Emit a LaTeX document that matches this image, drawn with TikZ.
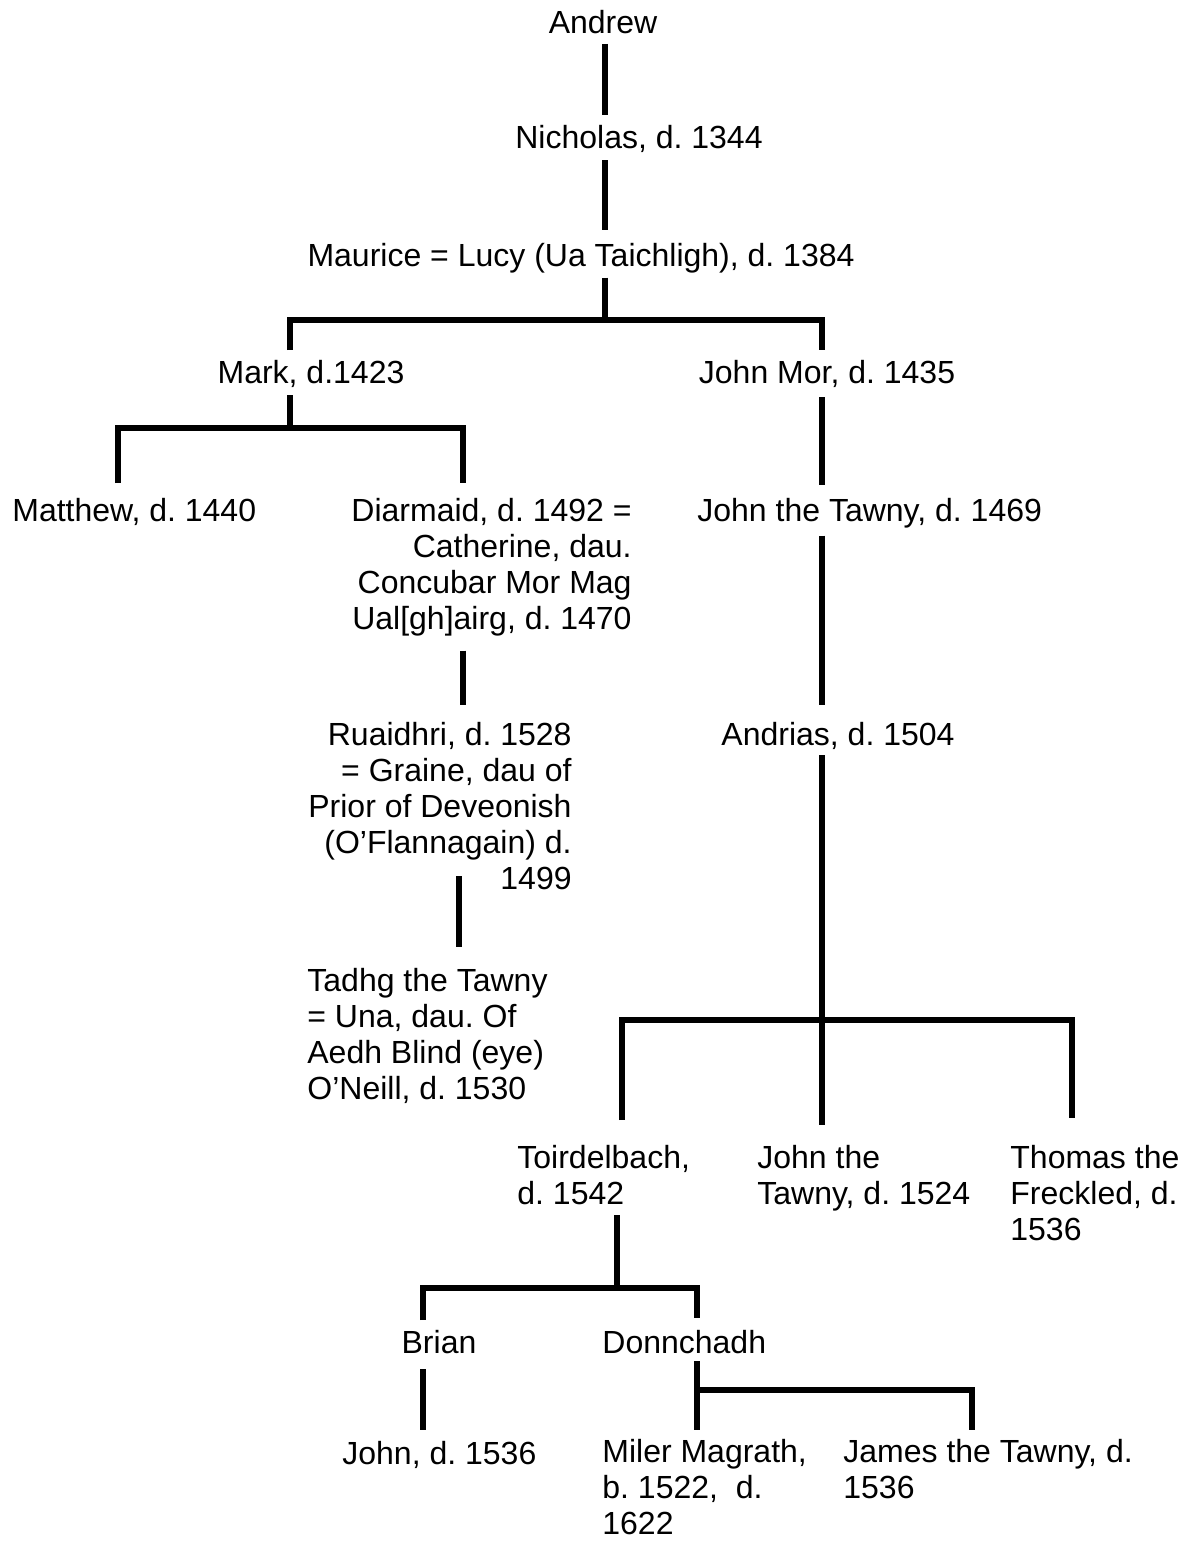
\documentclass[tikz,border=0pt]{standalone}
\usepackage{fontspec}
\setmainfont{Liberation Sans}
\usetikzlibrary{positioning}
\frenchspacing

\tikzset{
  person/.style={inner sep=0pt, font=\fontsize{16}{18}\selectfont},
  kin/.style={line width=3pt}
}

\begin{document}
\begin{tikzpicture}[x=0.5pt, y=-0.5pt]

    \useasboundingbox (0,0) rectangle (1186,1541);

    \node[person, anchor=north] (andrew) at (603,10) {Andrew};
    \node[person, anchor=north] (nicholas) at (639,125) {Nicholas, d. 1344};
    \node[person, anchor=north] (maurice) at (581,243) {Maurice = Lucy (Ua Taichligh), d. 1384};

    \node[person, anchor=north] (mark) at (311,360) {Mark, d.1423};
    \node[person, anchor=north] (johnmor) at (827,360) {John Mor, d. 1435};

    \node[person, anchor=north west] (matthew) at (12,498) {Matthew, d. 1440};
    \node[person, anchor=north east, align=right] (diarmaid) at (632,498)
        {Diarmaid, d. 1492 =\\ Catherine, dau.\\ Concubar Mor Mag\\ Ual[gh]airg, d. 1470};
    \node[person, anchor=north west] (johntawny) at (697,498) {John the Tawny, d. 1469};

    \node[person, anchor=north east, align=right] (ruaidhri) at (572,722)
        {Ruaidhri, d. 1528\\ = Graine, dau of\\ Prior of Deveonish\\ (O’Flannagain) d.\\ 1499};
    \node[person, anchor=north] (andrias) at (838,722) {Andrias, d. 1504};

    \node[person, anchor=north west, align=left] (tadhg) at (307,968)
        {Tadhg the Tawny\\ = Una, dau. Of\\ Aedh Blind (eye)\\ O’Neill, d. 1530};

    \node[person, anchor=north west, align=left] (toirdelbach) at (517,1145) {Toirdelbach,\\ d. 1542};
    \node[person, anchor=north west, align=left] (johntawny2) at (757,1145) {John the\\ Tawny, d. 1524};
    \node[person, anchor=north west, align=left] (thomas) at (1010,1145) {Thomas the\\ Freckled, d.\\ 1536};

    \node[person, anchor=north] (brian) at (439,1330) {Brian};
    \node[person, anchor=north west] (donnchadh) at (602,1330) {Donnchadh};

    \node[person, anchor=north west] (john) at (342,1441) {John, d. 1536};
    \node[person, anchor=north west, align=left] (miler) at (602,1439) {Miler Magrath,\\ b. 1522,\ \ d.\\ 1622};
    \node[person, anchor=north west, align=left] (james) at (843,1439) {James the Tawny, d.\\ 1536};

    \coordinate (j1) at (605,320);  \coordinate (j1l) at (290,320);  \coordinate (j1r) at (822,320);
    \coordinate (j2) at (290,428);  \coordinate (j2l) at (118,428);  \coordinate (j2r) at (463,428);
    \coordinate (j3) at (822,1020); \coordinate (j3l) at (622,1020); \coordinate (j3r) at (1072,1020);
    \coordinate (j4) at (617,1288); \coordinate (j4l) at (423,1288); \coordinate (j4r) at (697,1288);
    \coordinate (j5) at (697,1390); \coordinate (j5r) at (972,1390);

    \draw[kin] ([yshift=-4.8pt]andrew.south -| j1) -- ([yshift=5pt]nicholas.north -| j1);
    \draw[kin] ([yshift=-3.5pt]nicholas.south -| j1) -- ([yshift=6.5pt]maurice.north -| j1);
    \draw[kin] ([yshift=-2pt]maurice.south -| j1) -- (j1);
    \draw[kin] ([yshift=5pt]mark.north -| j1l) |- (j1r) -- ([yshift=5pt]johnmor.north -| j1r);

    \draw[kin] ([yshift=-3.5pt]mark.south -| j2) -- (j2);
    \draw[kin] ([yshift=7.5pt]matthew.north -| j2l) |- (j2r) -- ([yshift=7.5pt]diarmaid.north -| j2r);

    \draw[kin] ([yshift=-4.5pt]johnmor.south -| j1r) -- ([yshift=6.5pt]johntawny.north -| j1r);
    \draw[kin] ([yshift=-3.5pt]johntawny.south -| j1r) -- ([yshift=8.5pt]andrias.north -| j1r);

    \draw[kin] ([yshift=-7pt]diarmaid.south -| j2r) -- ([yshift=8.5pt]ruaidhri.north -| j2r);
    \draw[kin] ([xshift=-2pt, yshift=7pt]ruaidhri.south -| j2r) -- ([xshift=-2pt, yshift=10.5pt]tadhg.north -| j2r);

    \draw[kin] ([yshift=-2.5pt]andrias.south -| j3) -- ([yshift=10pt]johntawny2.north -| j3);
    \draw[kin] ([yshift=12.5pt]toirdelbach.north -| j3l) |- (j3r) -- ([yshift=13.5pt]thomas.north -| j3r);

    \draw[kin] ([yshift=-5pt]toirdelbach.south -| j4) -- (j4);
    \draw[kin] ([yshift=5pt]brian.north -| j4l) |- (j4r) -- ([yshift=6pt]donnchadh.north -| j4r);

    \draw[kin] ([yshift=-7.5pt]brian.south -| j4l) -- ([yshift=5.5pt]john.north -| j4l);
    \draw[kin] ([yshift=-3.5pt]donnchadh.south -| j5) -- ([yshift=4.5pt]miler.north -| j5);
    \draw[kin] (j5) -- (j5r) -- ([yshift=4.5pt]james.north -| j5r);

\end{tikzpicture}
\end{document}
